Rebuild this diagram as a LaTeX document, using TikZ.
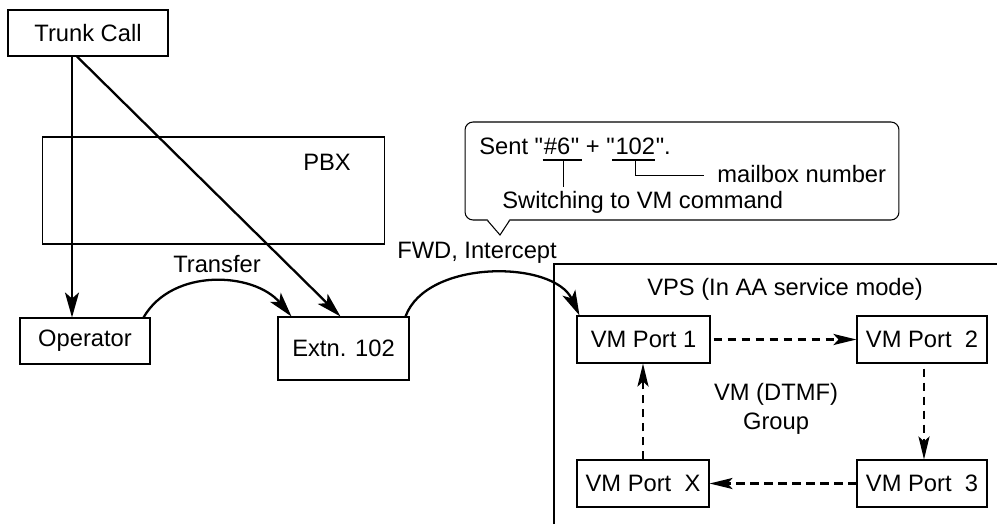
\documentclass[tikz,border=0pt]{standalone}
\usepackage{fontspec}
\setmainfont{Liberation Sans}[Ligatures=TeXOff]
\usetikzlibrary{positioning}
\usetikzlibrary{arrows.meta}
\usetikzlibrary{calc}

\begin{document}
\begin{tikzpicture}[
        x=0.02cm, y=-0.02cm,
        every node/.style={font=\fontsize{13.5}{16.4}\selectfont},
        box/.style={draw, line width=0.6pt, minimum height=0.92cm, inner sep=0pt},
        arrow/.style={-{Stealth[length=0.5cm, width=0.28cm, inset=0.12cm]}, line width=1.3pt},
        dasharrow/.style={-{Stealth[length=0.46cm, width=0.22cm, inset=0.1cm]}, line width=1.4pt, dash pattern=on 0.17cm off 0.11cm},
        txt/.style={anchor=base, inner sep=0pt},
        thin line/.style={line width=0.6pt}
    ]

        \useasboundingbox (0,0) rectangle (997,524);

        % -------------------------------------------------
        % 1. Trunk call and PBX
        % -------------------------------------------------
        \node[box, minimum width=3.2cm] (trunk) at (88,33) {Trunk Call};
        \node[box, minimum width=6.86cm, minimum height=2.14cm] (pbx) at (213.5,190.5) {};
        \node[txt] (pbxname) at (327,170) {PBX};

        \node[box, minimum width=2.6cm] (operator) at (85,341) {Operator};
        \node[box, minimum width=2.62cm, minimum height=1.26cm] (extn) at (343.5,348.5) {Extn. 102};

        % Incoming call
        \draw[arrow] ([xshift=-0.32cm]trunk.south) -- ([xshift=-0.32cm]trunk.south |- operator.north);
        \draw[arrow] ([xshift=-0.22cm]trunk.south) -- ([xshift=-0.06cm]extn.north);

        % Transfer
        \draw[arrow] ([xshift=-0.14cm]operator.north east) to[out=60, in=130] ([xshift=0.28cm]extn.north west);
        \node[txt] (transfer) at (217,272) {Transfer};

        % -------------------------------------------------
        % 2. Callout
        % -------------------------------------------------
        \node[draw, thin line, rounded corners=0.16cm, minimum width=8.68cm, minimum height=1.96cm] (note) at (682,171) {};
        \coordinate (tip) at (500,235);
        \fill[white] ([xshift=0.46cm, yshift=0.03cm]note.south west) -- (tip) -- ([xshift=0.9cm, yshift=0.03cm]note.south west) -- cycle;
        \draw[thin line] ([xshift=0.46cm]note.south west) -- (tip) -- ([xshift=0.9cm]note.south west);

        \node[txt, anchor=base west] (sent) at (479,154) {Sent "};
        \node[txt, anchor=base west] (code) at (sent.base east) {\#6};
        \node[txt, anchor=base west] (plus) at (code.base east) {" + "};
        \node[txt, anchor=base west] (mbox) at (plus.base east) {102};
        \node[txt, anchor=base west] (stop) at (mbox.base east) {".};
        \node[txt, anchor=base west] (mailbox) at (717,182) {mailbox number};
        \node[txt, anchor=base west] (switching) at (502,208) {Switching to VM command};

        \draw[thin line] ([xshift=-0.02cm, yshift=-0.12cm]code.base west) -- ([xshift=0.22cm, yshift=-0.12cm]code.base east);
        \draw[thin line] ([xshift=0.12cm, yshift=-0.12cm]code.base) -- ([xshift=0.12cm, yshift=0.07cm]code.base |- switching.north);
        \draw[thin line] ([xshift=-0.06cm, yshift=-0.12cm]mbox.base west) -- ([yshift=-0.12cm]mbox.base east);
        \draw[thin line] ([yshift=-0.12cm]mbox.base) |- ([xshift=-0.26cm, yshift=-0.04cm]mailbox.west);

        % -------------------------------------------------
        % 3. VPS
        % -------------------------------------------------
        \draw[thin line] (554,524) -- (554,264) -- (997,264);
        \node[txt] (vps) at (785,295) {VPS (In AA service mode)};

        \node[box, minimum width=2.66cm, minimum height=0.94cm] (vm1) at (643.5,339.5) {VM Port 1};
        \node[box, minimum width=2.6cm, minimum height=0.94cm] (vm2) at (922,339.5) {VM Port\ \ 2};
        \node[box, minimum width=2.6cm, minimum height=0.94cm] (vm3) at (922,483.5) {VM Port\ \ 3};
        \node[box, minimum width=2.64cm, minimum height=0.94cm] (vmx) at (643,483.5) {VM Port\ \ X};
        \node[txt, align=center, anchor=north] (group) at (776,383) {VM (DTMF)\\Group};

        % FWD, Intercept
        \draw[arrow] ([xshift=-0.08cm]extn.north east) to[out=70, in=115, looseness=0.9] ([xshift=0.06cm]vm1.north west);
        \node[txt] (fwd) at (477,258) {FWD, Intercept};

        % Hunting order
        \draw[dasharrow] ([xshift=0.06cm]vm1.east) -- (vm2.west);
        \draw[dasharrow] ([xshift=0.04cm, yshift=-0.1cm]vm2.south) -- ([xshift=0.04cm]vm2.south |- vm3.north);
        \draw[dasharrow] (vm3.west) -- (vmx.east);
        \draw[dasharrow] (vmx.north) -- (vmx.north |- vm1.south);

    \end{tikzpicture}
\end{document}
